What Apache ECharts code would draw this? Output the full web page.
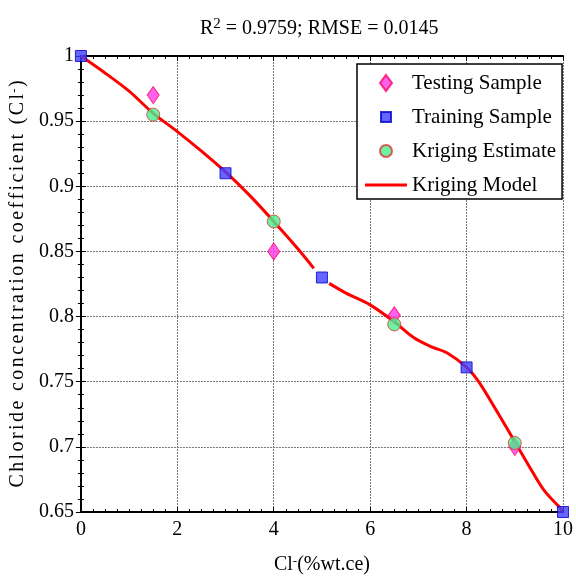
<!DOCTYPE html>
<html>
<head>
<meta charset="utf-8">
<script src="https://cdn.jsdelivr.net/npm/echarts@6/dist/echarts.min.js"></script>
<style>
html, body { margin: 0; padding: 0; background: #fff; }
#box { width: 576px; height: 583px; }
</style>
</head>
<body>
<div id="box"></div>
<script>
// data
var testX = [1.5, 4, 6.5, 9]
var testY = [0.97, 0.85, 0.801, 0.70]
var trainX = [0, 3, 5, 8, 10]
var trainY = [1, 0.91, 0.83, 0.761, 0.65]
var estX = [1.5, 4, 6.5, 9]
var estY = [0.955, 0.873, 0.794, 0.703]
// kriging model curve ('-' = break in the line)
var modelX = [0, 0.5, 1, 1.5, 2, 2.5, 3, 3.5, 4, 4.5, 4.83, 5, 5.15, 5.5, 6, 6.5, 6.9, 7.26, 7.6, 8, 8.25, 8.6, 9, 9.3, 9.6, 10]
var modelY = [1, 0.987, 0.973, 0.956, 0.942, 0.927, 0.911, 0.893, 0.873, 0.852, 0.837, '-', 0.8255, 0.818, 0.809, 0.796, 0.784, 0.777, 0.772, 0.761, 0.75, 0.729, 0.704, 0.685, 0.667, 0.651]
var yName = 'Chloride concentration coefficient (Cl'

function pairs (xs, ys) {
  return xs.map(function (x, i) { return [x, ys[i]] })
}

// the y title in the figure is spaced out, so every letter gets a little padding
function spaced (s) {
  return s.split('').map(function (ch) { return '{c|' + ch + '}' }).join('')
}

var font = 'Liberation Serif'

var chart = echarts.init(document.getElementById('box'))
var option = {
  backgroundColor: '#fff',
  animation: false,
  textStyle: { fontFamily: font, color: '#000' },
  title: {
    text: 'R{sup|2} = 0.9759; RMSE = 0.0145',
    left: 195,
    top: 12,
    textStyle: {
      fontFamily: font,
      fontSize: 20,
      fontWeight: 'normal',
      color: '#000',
      lineHeight: 24,
      rich: {
        sup: { fontFamily: font, fontSize: 15, verticalAlign: 'top', lineHeight: 16, color: '#000' }
      }
    }
  },
  legend: {
    left: 357,
    top: 64,
    orient: 'vertical',
    backgroundColor: '#fff',
    borderColor: '#000',
    borderWidth: 1.5,
    borderRadius: 0,
    padding: [8, 6, 3, 8],
    itemWidth: 42,
    itemHeight: 16,
    itemGap: 12,
    symbolKeepAspect: true,
    textStyle: { fontFamily: font, fontSize: 21, color: '#000', lineHeight: 22 },
    data: [
      { name: 'Testing Sample', icon: 'path://M6,0L12,8L6,16L0,8Z' },
      { name: 'Training Sample', icon: 'path://M-3,-3M13,13M0,0H10V10H0Z' },
      { name: 'Kriging Estimate', icon: 'path://M-2,-2M14,14M0,6A6,6,0,1,1,12,6A6,6,0,1,1,0,6Z' },
      { name: 'Kriging Model', icon: 'path://M0,0H42V3H0Z' }
    ]
  },
  grid: {
    left: 80,
    right: 9,
    top: 56,
    bottom: 71
  },
  xAxis: [{
    type: 'value',
    min: 0,
    max: 10,
    interval: 2,
    name: 'Cl{sup|-}(%wt.ce)',
    nameLocation: 'middle',
    nameGap: 43,
    nameTextStyle: {
      fontFamily: font, fontSize: 20, color: '#000',
      rich: { sup: { fontFamily: font, fontSize: 13, verticalAlign: 'top', color: '#000' } }
    },
    axisLine: { lineStyle: { color: '#000', width: 2 } },
    axisTick: { inside: true, length: 5, lineStyle: { color: '#000' } },
    minorTick: { show: true, splitNumber: 8, length: 3, lineStyle: { color: '#000' } },
    axisLabel: { fontFamily: font, fontSize: 20, color: '#000', margin: 8 },
    splitLine: { show: true, lineStyle: { color: '#777', type: [2, 1], width: 1 } }
  }, {
    type: 'value',
    position: 'top',
    min: 0,
    max: 10,
    interval: 2,
    axisLine: { show: true, lineStyle: { color: '#000', width: 2 } },
    axisTick: { show: true, inside: true, length: 5, lineStyle: { color: '#000' } },
    minorTick: { show: true, splitNumber: 8, length: 3, lineStyle: { color: '#000' } },
    axisLabel: { show: false },
    splitLine: { show: false }
  }],
  yAxis: [{
    type: 'value',
    min: 0.65,
    max: 1,
    interval: 0.05,
    name: spaced(yName) + '{sup|-}{c|)}',
    nameLocation: 'middle',
    nameGap: 45,
    nameTextStyle: {
      fontFamily: font, fontSize: 20, color: '#000',
      rich: {
        c: { fontFamily: font, fontSize: 20, color: '#000', padding: [0, 1.2, 0, 1.2] },
        sup: { fontFamily: font, fontSize: 13, verticalAlign: 'top', color: '#000' }
      }
    },
    axisLine: { show: true, lineStyle: { color: '#000', width: 2 } },
    axisTick: { show: true, inside: true, length: 5, lineStyle: { color: '#000' } },
    minorTick: { show: true, splitNumber: 5, length: 3, lineStyle: { color: '#000' } },
    axisLabel: { fontFamily: font, fontSize: 20, color: '#000', margin: 7 },
    splitLine: { show: true, lineStyle: { color: '#777', type: [2, 1], width: 1 } }
  }, {
    type: 'value',
    position: 'right',
    min: 0.65,
    max: 1,
    interval: 0.05,
    axisLine: { show: true, lineStyle: { color: '#000', width: 2 } },
    axisTick: { show: true, inside: true, length: 5, lineStyle: { color: '#000' } },
    minorTick: { show: true, splitNumber: 5, length: 3, lineStyle: { color: '#000' } },
    axisLabel: { show: false },
    splitLine: { show: false }
  }],
  series: [{
    type: 'line',
    name: 'Kriging Model',
    symbol: 'none',
    smooth: 0.3,
    connectNulls: false,
    lineStyle: { color: '#ff0000', width: 3 },
    itemStyle: { color: '#ff0000' },
    z: 2,
    data: pairs(modelX, modelY)
  }, {
    type: 'scatter',
    name: 'Testing Sample',
    symbol: 'diamond',
    symbolSize: [12, 17],
    itemStyle: { color: '#ff3ae6', borderColor: '#ff0066', borderWidth: 1 },
    z: 3,
    data: pairs(testX, testY)
  }, {
    type: 'scatter',
    name: 'Training Sample',
    symbol: 'rect',
    symbolSize: 11,
    itemStyle: { color: '#4040ff', borderColor: '#0000cc', borderWidth: 1 },
    z: 4,
    data: pairs(trainX, trainY)
  }, {
    type: 'scatter',
    name: 'Kriging Estimate',
    symbol: 'circle',
    symbolSize: 13,
    itemStyle: { color: '#48ee8c', borderColor: '#dd3333', borderWidth: 1 },
    z: 5,
    data: pairs(estX, estY)
  }]
}
chart.setOption(option)
</script>
</body>
</html>
